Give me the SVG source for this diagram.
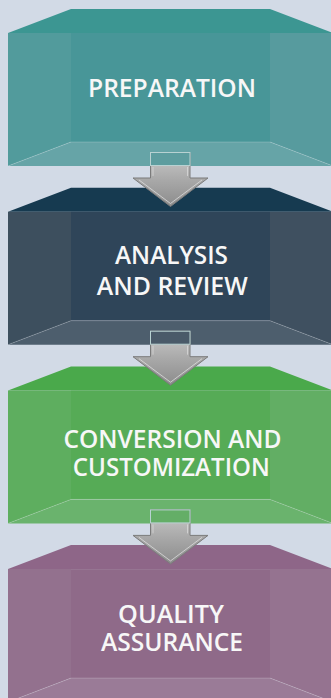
<svg xmlns="http://www.w3.org/2000/svg" width="331" height="698" viewBox="0 0 331 698">
<defs>
<linearGradient id="ag" x1="0" y1="0" x2="0" y2="1">
<stop offset="0" stop-color="#cacaca"/>
<stop offset="0.5" stop-color="#a9a9a9"/>
<stop offset="1" stop-color="#8c8c8c"/>
</linearGradient>
<g id="box">
<polygon class="top" points="8,33 71,9 270,9 333,33"/>
<rect class="back" x="71" y="33" width="199" height="109"/>
<polygon class="left" points="8,33 71,33 71,142 8,166"/>
<polygon class="right" points="270,33 333,33 333,166 270,142"/>
<polygon class="bottom" points="71,142 270,142 333,166 8,166"/>
<polyline class="edge" points="8,166 71,142 270,142 333,166"/>
</g>
<g id="arrow">
<path d="M150.5,152.5 H190 V178 H208 L170.5,206.5 L133,178 H150.5 Z" fill="url(#ag)" stroke="#7b7b7b" stroke-width="1"/>
<polyline points="139,180 170.5,203.5 202,180" fill="none" stroke="#e6e6e6" stroke-width="1" opacity="0.7"/>
<line x1="153" y1="167" x2="153" y2="176" stroke="#e6e6e6" stroke-width="1" opacity="0.6"/>
<line x1="187.5" y1="167" x2="187.5" y2="176" stroke="#e6e6e6" stroke-width="1" opacity="0.6"/>
</g>
</defs>
<style>
.edge{fill:none;stroke:#ffffff;stroke-opacity:0.25;stroke-width:0.8}
.top{fill:var(--top)}.back{fill:var(--back)}.left{fill:var(--left)}.right{fill:var(--right)}.bottom{fill:var(--bottom)}
#n1{--top:#3c9692;--back:#489698;--left:#529b9c;--right:#579b9e;--bottom:#66a4a7}
#n2{--top:#163a50;--back:#2f4559;--left:#3d4f5e;--right:#3f5060;--bottom:#4d5e6d}
#n3{--top:#4aa94b;--back:#56ab56;--left:#5eae5f;--right:#62ae64;--bottom:#6ab36d}
#n4{--top:#8e6688;--back:#8f6a89;--left:#93718e;--right:#957390;--bottom:#9a7b97}
.lbl{font-family:"Open Sans","Noto Sans",sans-serif;font-weight:600;font-size:26px;fill:#f7f7f7;text-anchor:middle}
.veil{stroke:#b8d2d2;stroke-width:1}
</style>
<rect width="331" height="698" fill="#d2dae6"/>
<g id="n4">
<use href="#box" transform="translate(0,536.1)"/>
<text class="lbl" x="171" y="622.5" textLength="106" lengthAdjust="spacingAndGlyphs">QUALITY</text>
<text class="lbl" x="172" y="650.5" textLength="142" lengthAdjust="spacingAndGlyphs">ASSURANCE</text>
</g>
<g id="n3">
<use href="#box" transform="translate(0,357.4)"/>
<text class="lbl" x="172.5" y="447.5" textLength="218" lengthAdjust="spacingAndGlyphs">CONVERSION AND</text>
<text class="lbl" x="171.3" y="476" textLength="197" lengthAdjust="spacingAndGlyphs">CUSTOMIZATION</text>
</g>
<g id="n2">
<use href="#box" transform="translate(0,178.7)"/>
<text class="lbl" x="171.5" y="263.5" textLength="113" lengthAdjust="spacingAndGlyphs">ANALYSIS</text>
<text class="lbl" x="172.3" y="294.5" textLength="151" lengthAdjust="spacingAndGlyphs">AND REVIEW</text>
</g>
<g id="n1">
<use href="#box"/>
<text class="lbl" x="172" y="96.5" textLength="168" lengthAdjust="spacingAndGlyphs">PREPARATION</text>
</g>
<g id="connectors">
<g>
<use href="#arrow"/>
<rect class="veil" x="150.5" y="152.5" width="39.5" height="13" fill="#5d9d9f"/>
</g>
<g transform="translate(0,178.7)">
<use href="#arrow"/>
<rect class="veil" x="150.5" y="152.5" width="39.5" height="13" fill="#4a5a69" stroke="#7a8894"/>
</g>
<g transform="translate(0,357.4)">
<use href="#arrow"/>
<rect class="veil" x="150.5" y="152.5" width="39.5" height="13" fill="#64ae67" stroke="#9fcfa2"/>
</g>
</g>
</svg>
